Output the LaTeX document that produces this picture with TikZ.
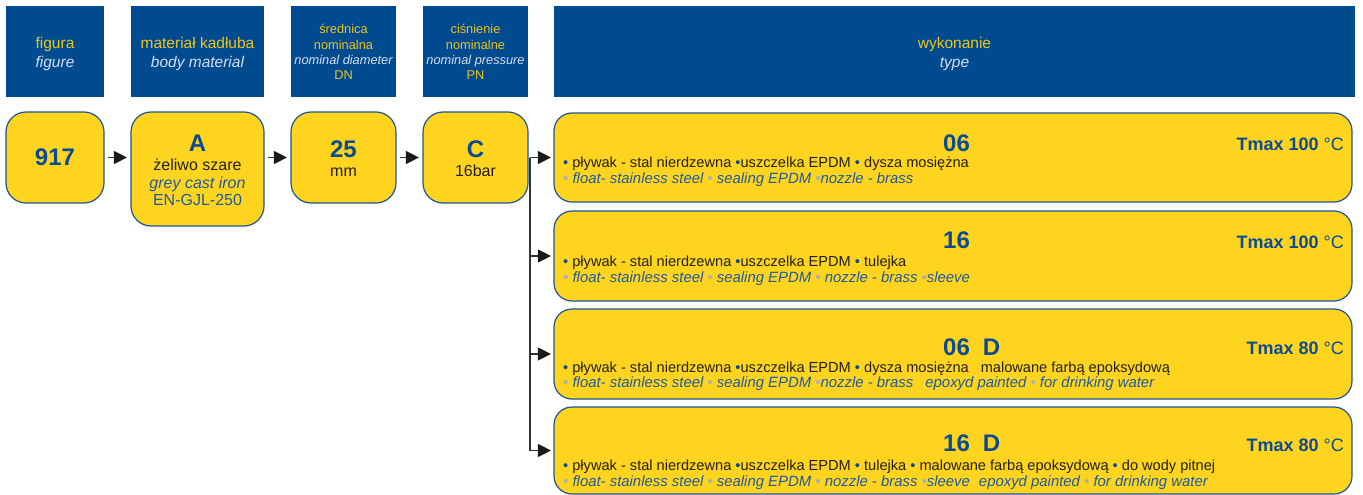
\documentclass[tikz,border=0pt]{standalone}
\usepackage{fontspec}
\setmainfont{Liberation Sans}
\usepackage{graphicx}
\usetikzlibrary{arrows.meta}
\definecolor{hblue}{RGB}{0,74,143}
\definecolor{ylw}{RGB}{254,212,30}
\definecolor{bord}{RGB}{30,85,150}
\definecolor{nblue}{RGB}{12,75,148}
\definecolor{iblue}{RGB}{30,90,160}
\definecolor{htext}{RGB}{236,196,30}
\definecolor{hital}{RGB}{215,222,235}
\definecolor{bgray}{RGB}{170,175,185}
\definecolor{tblack}{RGB}{35,31,32}
\definecolor{conn}{RGB}{51,51,51}
\definecolor{tipc}{RGB}{25,25,25}
\newcommand\bbul{{\color{nblue}•}}
\newcommand\gbul{{\color{bgray}•}}
\begin{document}
\begin{tikzpicture}[x=1pt,y=-1pt,
  hdr/.style={fill=hblue, draw=none, inner sep=0pt},
  htxt/.style={text=htext, align=center, inner sep=0pt, font=\fontsize{15.5}{18.5}\selectfont},
  hstxt/.style={text=htext, align=center, inner sep=0pt, font=\fontsize{12.8}{15.3}\selectfont},
  ybox/.style={fill=ylw, draw=bord, line width=1.2pt, rounded corners=20pt, inner sep=0pt},
  tbox/.style={fill=ylw, draw=bord, line width=1.2pt, rounded corners=18pt, inner sep=0pt, minimum width=798pt, minimum height=89pt},
  bignum/.style={text=nblue, inner sep=0pt, font=\bfseries\fontsize{24}{28}\selectfont},
  rtxt/.style={text=tblack, inner sep=0pt, font=\fontsize{16}{19}\selectfont},
  ritxt/.style={text=iblue, inner sep=0pt, font=\itshape\fontsize{16}{19}\selectfont},
  rbtxt/.style={text=iblue, inner sep=0pt, font=\fontsize{16}{19}\selectfont},
  lone/.style={text=tblack, inner sep=0pt, anchor=base west, font=\fontsize{14.6}{17}\selectfont},
  ltwo/.style={text=iblue, inner sep=0pt, anchor=base west, font=\itshape\fontsize{14.9}{17}\selectfont},
  tmx/.style={text=nblue, inner sep=0pt, anchor=base east, font=\fontsize{18}{21}\selectfont},
  conline/.style={draw=conn, line width=1.2pt},
  arr/.style={draw=conn, line width=1.2pt, -{Triangle[length=13pt,width=13pt,color=tipc]}, shorten >=3.5pt, shorten <=3pt},
  barr/.style={draw=conn, line width=1.2pt, -{Triangle[length=13pt,width=13pt,color=tipc]}, shorten >=2.5pt}
]
\useasboundingbox (0,0) rectangle (1363,495);

% header row
\node[hdr, minimum width=98pt, minimum height=91pt] (h1) at (55,51.5) {};
\node[hdr, minimum width=133pt, minimum height=91pt] (h2) at (197.5,51.5) {};
\node[hdr, minimum width=105pt, minimum height=91pt] (h3) at (343.5,51.5) {};
\node[hdr, minimum width=105pt, minimum height=91pt] (h4) at (475.5,51.5) {};
\node[hdr, minimum width=801pt, minimum height=91pt] (h5) at (954.5,51.5) {};
\node[htxt] (h1t) at (55,53.8) {figura\\{\color{hital}\itshape figure}};
\node[htxt] (h2t) at (197.5,53.8) {materiał kadłuba\\{\color{hital}\itshape body material}};
\node[hstxt] (h3t) at (343.5,52) {średnica\\nominalna\\{\color{hital}\itshape nominal diameter}\\DN};
\node[hstxt] (h4t) at (475.5,52) {ciśnienie\\nominalne\\{\color{hital}\itshape nominal pressure}\\PN};
\node[htxt] (h5t) at (954.5,53.8) {wykonanie\\{\color{hital}\itshape type}};

% code row
\node[ybox, minimum width=98pt, minimum height=91pt] (r1) at (55,157.5) {};
\node[ybox, minimum width=133pt, minimum height=114pt] (r2) at (197.5,169) {};
\node[ybox, minimum width=105pt, minimum height=91pt] (r3) at (343.5,157.5) {};
\node[ybox, minimum width=105pt, minimum height=91pt] (r4) at (475.5,157.5) {};

\node[bignum, anchor=base] (r1n) at (55,165.6) {917};
\node[bignum, anchor=base] (r2n) at (197.5,151.6) {A};
\node[rtxt, anchor=base] (r2a) at (197.5,170.5) {żeliwo szare};
\node[ritxt, anchor=base] (r2b) at (197.5,188) {grey cast iron};
\node[rbtxt, anchor=base] (r2c) at (197.5,205.5) {EN-GJL-250};
\node[bignum, anchor=base] (r3n) at (343.5,157.6) {25};
\node[rtxt, anchor=base] (r3a) at (343.5,176.5) {mm};
\node[bignum, anchor=base] (r4n) at (475.5,157.6) {C};
\node[rtxt, anchor=base] (r4a) at (475.5,176.5) {16bar};

\draw[arr] (r1.east) -- (r1.east -| r2.west);
\draw[arr] (r1.east -| r2.east) -- (r1.east -| r3.west);
\draw[arr] (r3.east) -- (r4.west);

% type boxes
\node[tbox] (t1) at (953,157.5) {};
\node[tbox, minimum height=90pt] (t2) at (953,256) {};
\node[tbox, minimum height=90pt] (t3) at (953,354) {};
\node[tbox, minimum height=87pt] (t4) at (953,450.5) {};

\node[bignum, anchor=base west] (t1n) at (943,151.6) {06};
\node[tmx] (t1m) at (1344,150.5) {\bfseries Tmax 100 \mdseries °C};
\node[lone] (t1a) at (563,167.5) {\bbul{} pływak - stal nierdzewna \bbul uszczelka EPDM \bbul{} dysza mosiężna};
\node[ltwo] (t1b) at (563,183.5) {\gbul{} float- stainless steel \gbul{} sealing EPDM \gbul nozzle - brass};

\node[bignum, anchor=base west] (t2n) at (943,248.6) {16};
\node[tmx] (t2m) at (1344,248) {\bfseries Tmax 100 \mdseries °C};
\node[lone] (t2a) at (563,266.5) {\bbul{} pływak - stal nierdzewna \bbul uszczelka EPDM \bbul{} tulejka};
\node[ltwo] (t2b) at (563,282.5) {\gbul{} float- stainless steel \gbul{} sealing EPDM \gbul{} nozzle - brass \gbul sleeve};

\node[bignum, anchor=base west] (t3n) at (943,355.6) {06\hspace{13pt}D};
\node[tmx] (t3m) at (1344,354.5) {\bfseries Tmax 80 \mdseries °C};
\node[lone] (t3a) at (563,372.5) {\bbul{} pływak - stal nierdzewna \bbul uszczelka EPDM \bbul{} dysza mosiężna\hspace{12pt}malowane farbą epoksydową};
\node[ltwo] (t3b) at (563,387.5) {\gbul{} float- stainless steel \gbul{} sealing EPDM \gbul nozzle - brass\hspace{12pt}epoxyd painted \gbul{} for drinking water};

\node[bignum, anchor=base west] (t4n) at (943,451.6) {16\hspace{13pt}D};
\node[tmx] (t4m) at (1344,451.5) {\bfseries Tmax 80 \mdseries °C};
\node[lone] (t4a) at (563,470) {\bbul{} pływak - stal nierdzewna \bbul uszczelka EPDM \bbul{} tulejka \bbul{} malowane farbą epoksydową \bbul{} do wody pitnej};
\node[ltwo] (t4b) at (563,486) {\gbul{} float- stainless steel \gbul{} sealing EPDM \gbul{} nozzle - brass \gbul sleeve\hspace{9pt}epoxyd painted \gbul{} for drinking water};

% connectors
\coordinate (jt) at (530,157.5);
\coordinate (jb) at (530,450.5);
\draw[conline] (jt) -- (jb);
\draw[barr] (jt) -- (jt -| t1.west);
\draw[barr] (jt |- t2.west) -- (t2.west);
\draw[barr] (jt |- t3.west) -- (t3.west);
\draw[barr] (jb) -- (t4.west);
\end{tikzpicture}
\end{document}
